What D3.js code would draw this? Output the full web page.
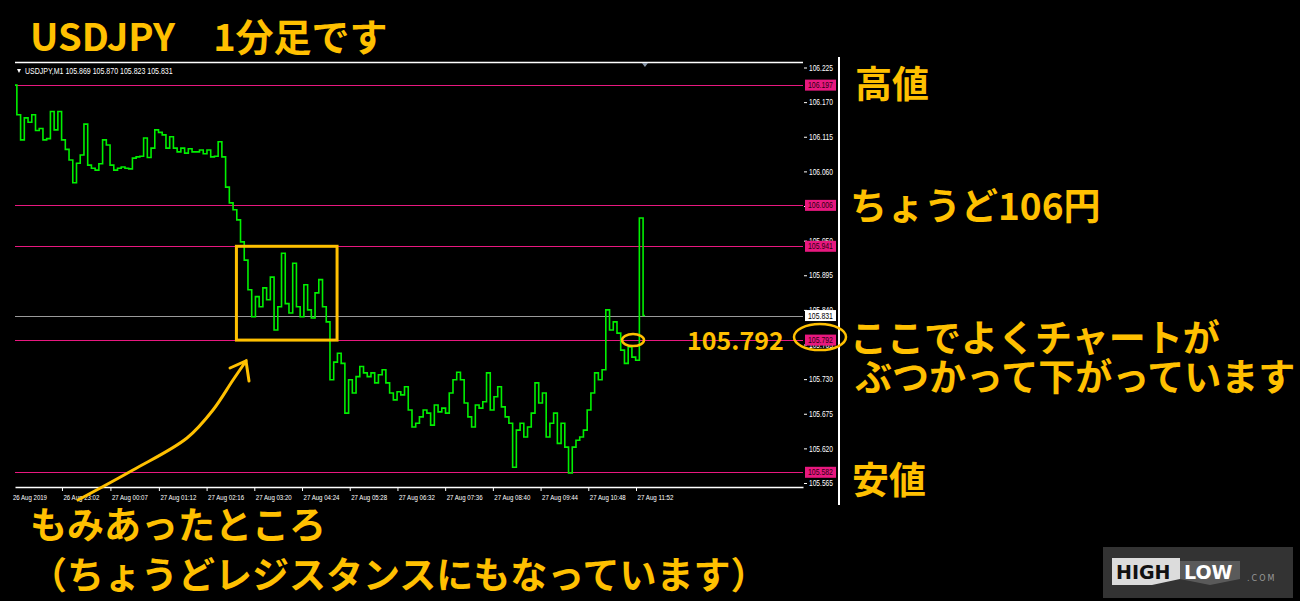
<!DOCTYPE html>
<html>
<head>
<meta charset="utf-8">
<script src="https://cdn.jsdelivr.net/npm/d3@7"></script>
<style>
  body { margin: 0; background: #000; }
  svg { display: block; }
</style>
</head>
<body>
<svg width="1300" height="601"></svg>
<script>
// --- data ---
const symbol = "USDJPY,M1";
const lastBar = [105.869, 105.870, 105.823, 105.831];
const startTime = new Date(2019, 7, 26, 21, 59);
const endTime = new Date(2019, 7, 27, 15, 36);
const stepMinutes = 5;

const prices = [
  106.197, 106.150, 106.110, 106.145, 106.138, 106.150, 106.125, 106.128, 106.110, 106.112,
  106.155, 106.126, 106.155, 106.110, 106.095, 106.078, 106.042, 106.073, 106.086, 106.135,
  106.070, 106.065, 106.062, 106.072, 106.110, 106.102, 106.070, 106.062, 106.065, 106.067,
  106.065, 106.064, 106.081, 106.083, 106.084, 106.113, 106.082, 106.097, 106.126, 106.122,
  106.118, 106.097, 106.115, 106.097, 106.091, 106.097, 106.089, 106.096, 106.091, 106.091,
  106.094, 106.088, 106.094, 106.083, 106.084, 106.107, 106.083, 106.035, 106.010, 105.999,
  105.983, 105.948, 105.919, 105.872, 105.829, 105.861, 105.845, 105.875, 105.856, 105.892,
  105.808, 105.845, 105.930, 105.850, 105.835, 105.914, 105.845, 105.829, 105.880, 105.840,
  105.827, 105.867, 105.888, 105.845, 105.821, 105.729, 105.757, 105.771, 105.755, 105.676,
  105.729, 105.708, 105.734, 105.750, 105.740, 105.734, 105.740, 105.724, 105.737, 105.745,
  105.724, 105.708, 105.697, 105.710, 105.705, 105.718, 105.681, 105.654, 105.660, 105.670,
  105.681, 105.676, 105.657, 105.689, 105.678, 105.684, 105.676, 105.708, 105.729, 105.741,
  105.729, 105.692, 105.670, 105.654, 105.689, 105.684, 105.694, 105.740, 105.681, 105.702,
  105.718, 105.686, 105.670, 105.660, 105.590, 105.649, 105.660, 105.638, 105.654, 105.676,
  105.724, 105.692, 105.708, 105.638, 105.660, 105.676, 105.628, 105.660, 105.622, 105.581,
  105.622, 105.633, 105.638, 105.649, 105.681, 105.708, 105.740, 105.729, 105.745, 105.840,
  105.808, 105.821, 105.803, 105.776, 105.755, 105.781, 105.765, 105.760, 105.986, 105.831
];

const yTicks = [106.225, 106.170, 106.115, 106.060, 106.005, 105.950, 105.895,
  105.840, 105.785, 105.730, 105.675, 105.620, 105.565];
const xTicks = ["2019-08-26T23:02", "2019-08-27T00:07", "2019-08-27T01:12", "2019-08-27T02:16",
  "2019-08-27T03:20", "2019-08-27T04:24", "2019-08-27T05:28", "2019-08-27T06:32",
  "2019-08-27T07:36", "2019-08-27T08:40", "2019-08-27T09:44", "2019-08-27T10:48",
  "2019-08-27T11:52"];
const firstLabel = "26 Aug 2019";

const levelPrices = [106.197, 106.006, 105.941, 105.792, 105.582];
const currentPrice = 105.831;

// annotation anchors (time, price)
const boxTimes = ["2019-08-27T02:56", "2019-08-27T05:11"];
const boxPrices = [105.941, 105.792];
const touchTime = "2019-08-27T11:48";
const touchPrice = 105.792;

const gold = "#FFC000";
const magenta = "#e8187f";
const jp = "'Noto Sans CJK JP', 'Noto Sans', sans-serif";
const small = "'Liberation Sans', Arial, sans-serif";

const svg = d3.select("svg");
svg.append("rect").attr("width", 1300).attr("height", 601).attr("fill", "#000");

const x = d3.scaleTime().domain([startTime, endTime]).range([15, 803]);
const y = d3.scaleLinear().domain([105.565, 106.225]).range([483, 67.5]);
const parse = d3.isoParse;

const series = prices.map((p, i) => ({
  t: d3.timeMinute.offset(startTime, i * stepMinutes),
  p: p
}));

// squeeze the tiny terminal text horizontally the way MT4 draws it
function squeeze(sel, len, size) {
  sel.attr("font-family", small).attr("font-size", size || 8.5);
  sel.each(function() {
    const t = d3.select(this);
    const w = this.getComputedTextLength();
    const x0 = +t.attr("x") || 0;
    t.attr("x", 0).attr("transform", `translate(${x0},0) scale(${len / w},1)`);
  });
}

// chart frame
svg.append("line")
  .attr("x1", 15).attr("x2", 803).attr("y1", 62.5).attr("y2", 62.5)
  .attr("stroke", "#fff").attr("stroke-width", 1.5);

svg.append("line")
  .attr("x1", 839).attr("x2", 839).attr("y1", 57).attr("y2", 505)
  .attr("stroke", "#fff").attr("stroke-width", 2);

// header
svg.append("path").attr("d", "M17,69 L21,69 L19,73 Z").attr("fill", "#fff");
svg.append("text")
  .attr("x", 25).attr("y", 74).attr("fill", "#fff")
  .text(symbol + "  " + lastBar.map(d3.format(".3f")).join(" "))
  .call(squeeze, 148);

// last bar marker
const lastT = series[series.length - 1].t;
svg.append("path")
  .attr("d", `M${x(lastT) - 3},63 L${x(lastT) + 3},63 L${x(lastT)},67 Z`)
  .attr("fill", "#8a98aa");

// horizontal level lines
svg.append("g").selectAll("line")
  .data(levelPrices)
  .enter().append("line")
  .attr("x1", 15).attr("x2", 803)
  .attr("y1", d => Math.round(y(d)) + 0.5).attr("y2", d => Math.round(y(d)) + 0.5)
  .attr("stroke", magenta).attr("stroke-width", 1.2);

svg.append("line")
  .attr("x1", 15).attr("x2", 803)
  .attr("y1", Math.round(y(currentPrice)) + 0.5).attr("y2", Math.round(y(currentPrice)) + 0.5)
  .attr("stroke", "#9a9a9a").attr("stroke-width", 1.2);

// price line
const line = d3.line()
  .x(d => x(d.t))
  .y(d => y(d.p))
  .curve(d3.curveStep);

svg.append("path")
  .datum(series)
  .attr("d", line)
  .attr("fill", "none")
  .attr("stroke", "#00f000")
  .attr("stroke-width", 1.6);

// right price axis
const yAxis = d3.axisRight(y)
  .tickValues(yTicks)
  .tickSize(3)
  .tickPadding(2)
  .tickFormat(d3.format(".3f"));

const yG = svg.append("g")
  .attr("transform", "translate(804,0)")
  .call(yAxis);
yG.select(".domain").remove();
yG.selectAll("line").attr("stroke", "#fff");
yG.selectAll("text").attr("fill", "#fff").call(squeeze, 24);

// level price boxes
const boxG = svg.append("g");
const boxes = levelPrices.map(p => ({p: p, fill: magenta, text: "#2a0010"}))
  .concat([{p: currentPrice, fill: "#fff", text: "#000"}]);

boxG.selectAll("rect")
  .data(boxes)
  .enter().append("rect")
  .attr("x", 805).attr("width", 31)
  .attr("y", d => y(d.p) - 5.5).attr("height", 11)
  .attr("fill", d => d.fill);

boxG.selectAll("text")
  .data(boxes)
  .enter().append("text")
  .attr("x", 808).attr("y", d => y(d.p) + 3)
  .attr("fill", d => d.text)
  .text(d => d3.format(".3f")(d.p))
  .call(squeeze, 25);

// bottom time axis
const xAxis = d3.axisBottom(x)
  .tickValues(xTicks.map(parse))
  .tickSize(4)
  .tickSizeOuter(0)
  .tickFormat(d3.timeFormat("%d %b %H:%M"));

const xG = svg.append("g")
  .attr("transform", "translate(0,487)")
  .call(xAxis);
xG.select(".domain").attr("stroke", "#fff").attr("stroke-width", 1.5);
xG.selectAll("line").attr("stroke", "#fff");
xG.selectAll("text")
  .attr("text-anchor", "start").attr("x", 1).attr("y", 8)
  .attr("fill", "#fff").call(squeeze, 36, 7.4);

svg.append("text")
  .attr("x", 13).attr("y", 500).attr("fill", "#fff")
  .text(firstLabel)
  .call(squeeze, 34, 7.4);

// --- annotations ---
const bx0 = x(parse(boxTimes[0])), bx1 = x(parse(boxTimes[1]));
svg.append("rect")
  .attr("x", bx0).attr("y", y(boxPrices[0]))
  .attr("width", bx1 - bx0).attr("height", y(boxPrices[1]) - y(boxPrices[0]))
  .attr("fill", "none").attr("stroke", gold).attr("stroke-width", 3);

svg.append("ellipse")
  .attr("cx", x(parse(touchTime))).attr("cy", y(touchPrice))
  .attr("rx", 11).attr("ry", 6)
  .attr("fill", "none").attr("stroke", gold).attr("stroke-width", 2.5);

svg.append("ellipse")
  .attr("cx", 820).attr("cy", y(touchPrice) - 3)
  .attr("rx", 26).attr("ry", 13)
  .attr("fill", "none").attr("stroke", gold).attr("stroke-width", 2.5);

// hand drawn arrow
const arrowPts = [[78, 500], [133, 470], [187, 438], [213, 410], [233, 380], [246, 361]];
svg.append("path")
  .attr("d", d3.line().curve(d3.curveCatmullRom)(arrowPts))
  .attr("fill", "none").attr("stroke", gold).attr("stroke-width", 3).attr("stroke-linecap", "round");
svg.append("path")
  .attr("d", d3.line()([[230, 368], [246, 361], [249, 381]]))
  .attr("fill", "none").attr("stroke", gold).attr("stroke-width", 3).attr("stroke-linecap", "round");

// texts
const notes = [
  {t: "USDJPY\u30001分足です", x: 30, y: 51, size: 38},
  {t: "高値", x: 855, y: 98, size: 37},
  {t: "ちょうど106円", x: 850, y: 220, size: 37},
  {t: "ここでよくチャートが", x: 850, y: 352, size: 37},
  {t: "ぶつかって下がっています", x: 855, y: 391, size: 37},
  {t: "安値", x: 852, y: 494, size: 37},
  {t: "もみあったところ", x: 30, y: 539, size: 37},
  {t: "（ちょうどレジスタンスにもなっています）", x: 30, y: 589, size: 37},
  {t: d3.format(".3f")(touchPrice), x: 687, y: 350, size: 25}
];

svg.append("g").selectAll("text")
  .data(notes)
  .enter().append("text")
  .attr("x", d => d.x).attr("y", d => d.y)
  .attr("font-family", jp).attr("font-weight", "bold")
  .attr("font-size", d => d.size)
  .attr("fill", gold)
  .text(d => d.t);

// HIGHLOW logo
const logo = svg.append("g");
logo.append("rect").attr("x", 1103).attr("y", 547).attr("width", 190).attr("height", 51).attr("fill", "#333");
logo.append("path")
  .attr("d", "M1112,558 L1180,558 L1180,579 L1152,585 L1112,585 Z")
  .attr("fill", "#dcdcdc");
logo.append("path")
  .attr("d", "M1180,561 L1240,561 L1240,579 L1210,585 L1180,579 Z")
  .attr("fill", "#5a5a5a");
logo.append("text").attr("x", 1116).attr("y", 579)
  .attr("font-family", "'DejaVu Sans', sans-serif").attr("font-weight", "bold").attr("font-size", 19)
  .attr("fill", "#111").text("HIGH");
logo.append("text").attr("x", 1184).attr("y", 579)
  .attr("font-family", "'DejaVu Sans', sans-serif").attr("font-weight", "bold").attr("font-size", 19)
  .attr("fill", "#fff").text("LOW");
logo.append("text").attr("x", 1247).attr("y", 581)
  .attr("font-family", "'DejaVu Sans', sans-serif").attr("font-size", 8).attr("letter-spacing", 2)
  .attr("fill", "#999").text(".COM");
</script>
</body>
</html>
